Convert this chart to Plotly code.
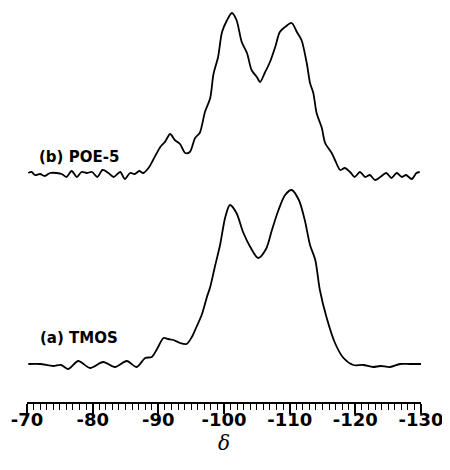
import plotly.graph_objects as go

# Trace (a) TMOS: chemical shift (ppm) and intensity above its own baseline
delta_a = [-70.2, -72.0, -74.0, -75.2, -76.3, -77.8, -79.6, -81.6, -83.4, -85.2, -86.7,
           -88.0, -89.0, -89.8, -90.8, -91.5, -92.3, -93.3, -94.3, -95.1, -95.8, -96.6,
           -97.4, -97.9, -98.6, -99.4, -100.2, -100.9, -101.9, -102.9, -104.0, -105.2,
           -106.4, -107.3, -108.3, -109.3, -110.3, -111.4, -112.3, -113.1, -113.9, -114.6,
           -115.6, -116.9, -118.2, -119.7, -121.2, -122.7, -123.8, -125.3, -126.8, -128.3, -130.0]
int_a = [1, 1, -1, 0, -4, 4, -3, 3, -2, 4, -2,
         7, 8, 16, 27, 26, 25, 22, 21, 28, 38, 50,
         68, 78, 98, 120, 148, 160, 152, 133, 118, 107,
         116, 135, 155, 170, 175, 165, 145, 120, 105, 75,
         48, 22, 7, 0, 0, -2, -1, -2, 1, 1, 1]

# Trace (b) POE-5
delta_b = [-70.2, -70.7, -71.2, -72.0, -72.7, -73.5, -74.5, -75.3, -76.0, -76.8, -77.6,
           -78.3, -79.1, -79.9, -80.7, -81.5, -82.4, -83.2, -84.2, -84.9, -85.7, -86.4,
           -87.1, -87.7, -88.5, -89.2, -90.3, -91.0, -91.8, -92.5, -93.3, -94.1, -94.8,
           -95.6, -96.3, -97.1, -97.9, -98.4, -99.1, -99.7, -100.4, -101.2, -101.9, -102.7,
           -103.5, -104.2, -105.0, -105.5, -106.2, -107.0, -107.8, -108.5, -109.3, -110.3,
           -111.1, -111.8, -112.6, -113.1, -113.6, -114.1, -114.9, -115.4, -116.4, -116.9,
           -117.7, -118.4, -119.2, -119.9, -120.7, -121.5, -122.2, -123.0, -123.8, -124.7,
           -125.5, -126.3, -127.1, -127.7, -128.6, -129.3, -129.8]
int_b = [0, 1, -2, -1, -3, 0, 0, -1, -4, 2, -4,
         1, 0, 1, -4, 3, 0, -4, 1, -6, 0, -1,
         2, 0, 5, 13, 26, 31, 39, 33, 29, 20, 21,
         35, 40, 61, 75, 99, 116, 141, 152, 160, 153, 131,
         120, 103, 96, 91, 100, 111, 126, 141, 146, 150,
         141, 133, 110, 90, 80, 60, 45, 30, 20, 13,
         3, 5, 1, -4, 1, -4, -2, -7, -4, 0,
         -5, 0, -4, -2, -6, 0, 1]

offset_a = 37
offset_b = 229

tick_vals = [-70, -80, -90, -100, -110, -120, -130]
tick_text = ["-70", "-80", "-90", "-100", "-110", "-120", "-130"]

line_style = dict(color="black", width=1.8, shape="spline", smoothing=0.8)

fig = go.Figure()
fig.add_trace(go.Scatter(x=delta_a, y=[v + offset_a for v in int_a], mode="lines",
                         line=line_style, hoverinfo="skip", showlegend=False))
fig.add_trace(go.Scatter(x=delta_b, y=[v + offset_b for v in int_b], mode="lines",
                         line=line_style, hoverinfo="skip", showlegend=False))

fig.add_annotation(x=-71.5, y=offset_b + 16, xref="x", yref="y", text="(b) POE-5",
                   showarrow=False, xanchor="left", yanchor="middle",
                   font=dict(family="DejaVu Sans", size=15, color="black", weight="bold"))
fig.add_annotation(x=-71.7, y=offset_a + 27, xref="x", yref="y", text="(a) TMOS",
                   showarrow=False, xanchor="left", yanchor="middle",
                   font=dict(family="DejaVu Sans", size=15, color="black", weight="bold"))
fig.add_annotation(x=-100, y=-0.103, xref="x", yref="paper", text="δ",
                   showarrow=False, xanchor="center", yanchor="middle",
                   font=dict(family="DejaVu Serif", size=20, color="black", style="italic"))

fig.update_layout(
    width=442, height=462,
    margin=dict(l=19, r=29, t=0, b=68),
    paper_bgcolor="white", plot_bgcolor="white",
    xaxis=dict(range=[-70, -130], showgrid=False, zeroline=False,
               showline=True, linecolor="black", linewidth=1.5,
               ticks="outside", ticklen=10, tickwidth=1.5, tickcolor="black",
               tickvals=tick_vals, ticktext=tick_text, ticklabelstandoff=-9,
               tickfont=dict(family="DejaVu Sans", size=18, color="black", weight="bold"),
               minor=dict(dtick=1, ticks="outside", ticklen=6, tickwidth=1, tickcolor="black")),
    yaxis=dict(range=[0, 394], visible=False, showgrid=False, zeroline=False),
)

fig.write_html("out.html")
